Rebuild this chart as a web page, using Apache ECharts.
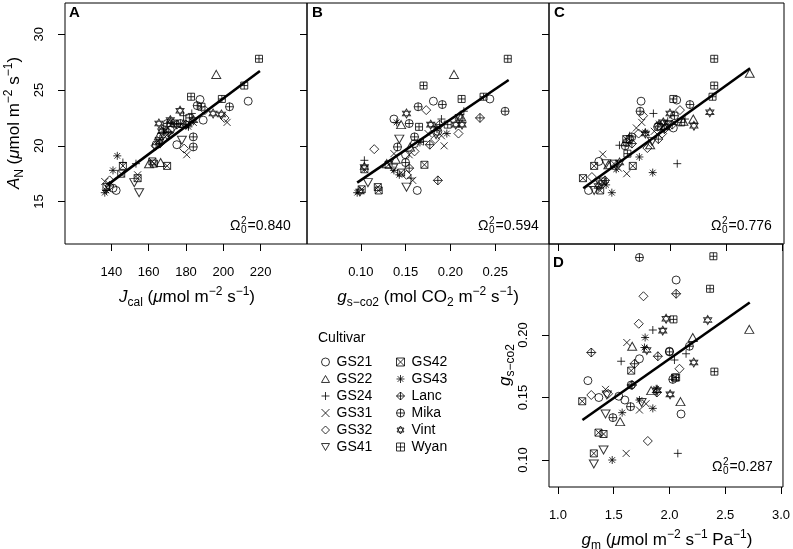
<!DOCTYPE html>
<html>
<head>
<meta charset="utf-8">
<title>AN, gs and gm by cultivar</title>
<script src="https://cdn.jsdelivr.net/npm/echarts@6/dist/echarts.min.js"></script>
<style>html,body{margin:0;background:#fff}#main{width:793px;height:549px}</style>
</head>
<body>
<div id="main"></div>
<script>
var cultivars = ['GS21','GS22','GS24','GS31','GS32','GS41','GS42','GS43','Lanc','Mika','Vint','Wyan'];

// panel A: Jcal vs AN, one list per cultivar (same order as cultivars)
var jcalAN = [
  [[213.3,24.0],[187.5,24.15],[189.2,22.3],[175.1,20.1],[142.6,16.0],[140.9,16.2],[171.6,21.4]],
  [[196.2,26.4],[171.6,22.1],[166.4,18.5],[165.5,20.9],[178.7,22.0],[160.2,18.4]],
  [[183.1,22.9],[178.7,22.7],[153.2,18.4],[146.2,18.5],[181.3,21.8],[168.0,21.2]],
  [[202.0,22.1],[180.4,19.2],[136.5,16.8],[154.1,17.4],[183.9,22.1],[170.0,21.0]],
  [[190.1,23.2],[200.6,22.5],[179.0,19.75],[139.1,16.9],[163.7,20.0],[172.5,21.6]],
  [[177.8,20.5],[152.3,16.7],[154.9,15.8],[169.9,20.9],[166.0,20.4]],
  [[146.2,18.2],[145.3,17.5],[154.1,17.1],[162.8,18.4],[169.9,18.2],[162.0,18.6],[137.4,16.3]],
  [[143.2,19.1],[140.9,17.8],[137.4,16.0],[136.5,15.8],[181.3,21.7],[168.0,21.5],[166.0,20.6]],
  [[180.0,21.9],[166.0,20.2],[170.5,21.2],[139.0,16.4],[175.0,21.9]],
  [[203.3,23.5],[183.9,20.8],[183.9,19.9],[177.0,22.0],[186.0,23.6],[164.0,20.1],[170.0,22.0]],
  [[194.5,22.9],[199.0,22.8],[176.8,23.15],[165.5,22.0],[171.6,22.3],[184.0,22.3],[167.0,21.3]],
  [[219.1,27.8],[211.2,25.4],[182.7,24.4],[199.2,24.2],[188.3,23.5],[181.8,22.5],[174.0,22.0]]
];

// panel B: gs-co2 vs AN
var gsAN = [
  [[0.181,24.0],[0.244,24.2],[0.137,22.4],[0.163,16.0],[0.150,19.2],[0.186,21.3],[0.160,20.2]],
  [[0.204,26.4],[0.145,21.9],[0.129,18.4],[0.139,18.8],[0.155,19.9],[0.212,22.6]],
  [[0.190,22.4],[0.215,23.1],[0.104,18.7],[0.156,17.1],[0.170,20.4],[0.183,21.7]],
  [[0.193,20.0],[0.154,19.2],[0.158,16.9],[0.190,20.9],[0.137,19.3],[0.175,21.1]],
  [[0.173,23.2],[0.209,21.1],[0.115,19.7],[0.151,17.4],[0.183,20.6],[0.160,19.5]],
  [[0.143,20.6],[0.108,16.7],[0.151,16.3],[0.136,18.0],[0.184,21.0]],
  [[0.171,18.3],[0.119,16.3],[0.120,16.0],[0.104,17.9],[0.145,17.6],[0.131,18.3],[0.101,16.1]],
  [[0.137,17.8],[0.143,17.4],[0.096,15.8],[0.196,21.1],[0.185,21.5],[0.166,20.3],[0.140,22.1]],
  [[0.233,22.5],[0.177,20.1],[0.186,16.9],[0.154,18.0],[0.188,21.9]],
  [[0.191,23.7],[0.164,23.5],[0.261,23.1],[0.154,22.0],[0.160,20.8],[0.141,19.9],[0.150,18.5]],
  [[0.151,22.9],[0.178,21.9],[0.206,21.9],[0.213,21.9],[0.104,18.1],[0.099,15.9],[0.210,22.6]],
  [[0.264,27.8],[0.170,25.4],[0.2125,24.2],[0.237,24.4],[0.165,21.7],[0.197,21.9]]
];

// panel C: gm vs AN
var gmAN = [
  [[1.742,24.0],[2.06,24.1],[1.273,16.0],[1.365,18.6],[1.90,21.8],[2.03,21.6],[1.64,20.6]],
  [[2.712,26.5],[2.208,22.4],[1.823,20.1],[1.45,18.3],[2.12,22.2],[1.96,21.8]],
  [[1.852,22.9],[2.134,22.4],[1.549,20.05],[2.065,18.4],[1.98,22.2],[1.64,20.9]],
  [[1.748,22.1],[1.40,19.25],[1.614,17.5],[1.54,18.0],[1.86,21.3],[1.70,21.6]],
  [[1.76,22.7],[2.089,23.2],[1.798,19.8],[1.72,21.1],[1.303,17.2],[1.93,21.1]],
  [[1.43,18.4],[1.323,16.0],[1.38,16.5],[1.98,21.9],[1.84,20.4]],
  [[1.323,18.2],[1.668,18.2],[1.223,17.1],[1.377,16.0],[1.50,18.4],[1.61,20.6],[1.40,16.8]],
  [[1.727,19.0],[1.846,17.6],[1.481,15.8],[1.52,17.9],[1.78,21.2],[1.90,22.0],[1.43,16.5]],
  [[1.896,20.6],[1.42,16.9],[1.95,21.5],[1.66,20.2],[2.02,21.9]],
  [[1.733,23.1],[2.178,23.7],[1.659,20.8],[1.614,20.3],[2.04,22.7],[1.89,21.7],[1.60,20.0]],
  [[2.356,23.0],[2.0,22.9],[2.214,21.8],[1.78,21.1],[1.94,22.1],[1.36,16.4],[1.55,18.5]],
  [[2.395,27.8],[2.395,25.4],[2.38,24.4],[2.03,24.2],[1.62,19.3],[2.10,22.1]]
];

// panel D: gm vs gs-co2
var gmGs = [
  [[2.06,0.244],[1.731,0.181],[1.269,0.1635],[1.367,0.150],[1.546,0.151],[2.104,0.1368],[2.0,0.187],[1.60,0.148]],
  [[2.716,0.2045],[2.209,0.198],[1.666,0.191],[1.836,0.1555],[2.099,0.1467],[1.558,0.1307]],
  [[1.851,0.204],[1.567,0.179],[2.149,0.185],[2.045,0.18],[2.075,0.1053]],
  [[1.618,0.194],[1.427,0.1565],[1.731,0.140],[1.612,0.1053],[1.79,0.145]],
  [[1.767,0.231],[1.725,0.209],[2.09,0.173],[1.299,0.152],[1.806,0.1152],[1.45,0.153]],
  [[1.439,0.152],[1.427,0.1368],[1.409,0.108],[1.322,0.0968],[1.75,0.146]],
  [[1.657,0.1715],[1.218,0.147],[1.364,0.1219],[1.409,0.1208],[1.322,0.1053],[2.05,0.166]],
  [[1.782,0.198],[1.776,0.190],[1.881,0.157],[1.731,0.148],[1.851,0.1413],[1.576,0.1379],[1.487,0.100]],
  [[2.06,0.233],[1.299,0.186],[1.896,0.183],[1.687,0.177],[1.887,0.154],[1.665,0.160]],
  [[1.731,0.262],[2.179,0.191],[1.657,0.160],[2.03,0.1645],[1.651,0.1427],[1.493,0.1339],[2.0,0.1865]],
  [[1.97,0.213],[2.343,0.212],[1.94,0.2035],[1.797,0.188],[2.218,0.178],[2.006,0.1525],[1.89,0.156]],
  [[2.394,0.263],[2.364,0.237],[2.036,0.2125],[2.403,0.1707],[2.06,0.166]]
];

// fitted lines (end points) and goodness of fit
var fitA = [[138.0,16.5],[219.6,26.7]];
var fitB = [[0.096,16.7],[0.265,25.9]];
var fitC = [[1.226,16.2],[2.715,26.95]];
var fitD = [[1.22,0.132],[2.72,0.226]];
var omega = ['0.840','0.594','0.776','0.287'];

var ticksJcal = [140,160,180,200,220];
var ticksGs = [0.10,0.15,0.20,0.25];
var ticksGm = [1.0,1.5,2.0,2.5,3.0];
var ticksAN = [15,20,25,30];
var ticksGsD = [0.10,0.15,0.20];

var FONT = '"Liberation Sans", Arial, Helvetica, sans-serif';

// R plotting characters 1..12
var pch = [
  'path://M0,5A5,5,0,1,1,10,5A5,5,0,1,1,0,5Z',
  'path://M5,0L10,8.66L0,8.66Z',
  'path://M5,0L5,10M0,5L10,5',
  'path://M0,0L10,10M10,0L0,10',
  'path://M5,0L10,5L5,10L0,5Z',
  'path://M0,0L10,0L5,8.66Z',
  'path://M0,0L10,0L10,10L0,10ZM0,0L10,10M10,0L0,10',
  'path://M5,0L5,10M0,5L10,5M1.46,1.46L8.54,8.54M8.54,1.46L1.46,8.54',
  'path://M5,0L10,5L5,10L0,5ZM5,0L5,10M0,5L10,5',
  'path://M0,5A5,5,0,1,1,10,5A5,5,0,1,1,0,5ZM5,0L5,10M0,5L10,5',
  'path://M5,0L9.33,7.5L0.67,7.5ZM5,10L0.67,2.5L9.33,2.5Z',
  'path://M0,0L10,0L10,10L0,10ZM5,0L5,10M0,5L10,5'
];
var pchSize = [8,[9,8],8,7,9,[9,8],7,8,9,8,[8,9],7];

var grids = [
  {left:65, top:3, width:242, height:241},
  {left:307, top:3, width:242, height:241},
  {left:549, top:3, width:235, height:241},
  {left:549, top:244, width:235, height:243}
];

function axis(gi, min, max, ticks, showLabels, fmt, rotate) {
  return {
    gridIndex: gi, type: 'value', min: min, max: max,
    axisLine: {show: false, onZero: false},
    splitLine: {show: false},
    axisTick: {show: true, length: 7, customValues: ticks, lineStyle: {color: '#000', width: 1}},
    axisLabel: {show: showLabels, customValues: ticks, margin: rotate ? 19 : 22, rotate: rotate || 0,
      fontSize: 13, color: '#000', fontFamily: FONT, formatter: fmt}
  };
}
var f0 = function (v) { return String(v); };
var f1 = function (v) { return v.toFixed(1); };
var f2 = function (v) { return v.toFixed(2); };

var xAxes = [
  axis(0, 115.2, 244.8, ticksJcal, true, f0),
  axis(1, 0.04, 0.31, ticksGs, true, f2),
  axis(2, 0.92, 3.018, ticksGm, false, f1),
  axis(3, 0.92, 3.018, ticksGm, true, f1)
];
var yAxes = [
  axis(0, 11.2, 32.8, ticksAN, true, f0, 90),
  axis(1, 11.2, 32.8, ticksAN, false, f0, 90),
  axis(2, 11.2, 32.8, ticksAN, false, f0, 90),
  axis(3, 0.0784, 0.2728, ticksGsD, true, f2, 90)
];

var panelData = [jcalAN, gsAN, gmAN, gmGs];
var fits = [fitA, fitB, fitC, fitD];
var series = [];
panelData.forEach(function (pts, gi) {
  cultivars.forEach(function (c, ci) {
    series.push({
      type: 'scatter', name: c, xAxisIndex: gi, yAxisIndex: gi, data: pts[ci],
      symbol: pch[ci], symbolSize: pchSize[ci], silent: true,
      itemStyle: {color: 'rgba(0,0,0,0)', borderColor: '#000', borderWidth: 1}
    });
  });
  series.push({
    type: 'line', xAxisIndex: gi, yAxisIndex: gi, data: fits[gi], symbol: 'none', silent: true,
    lineStyle: {color: '#000', width: 2.6}, z: 5
  });
});

// text helpers
var mctx = document.createElement('canvas').getContext('2d');
function tw(s, size) { mctx.font = size + 'px "Liberation Sans"'; return mctx.measureText(s).width; }

var RICH = {
  n: {fontSize: 17, fontFamily: FONT, lineHeight: 23, fill: '#000'},
  i: {fontSize: 17, fontFamily: FONT, fontStyle: 'italic', lineHeight: 23, fill: '#000'},
  sp: {fontSize: 12, fontFamily: FONT, lineHeight: 12, verticalAlign: 'top', fill: '#000'},
  sb: {fontSize: 12, fontFamily: FONT, lineHeight: 12, verticalAlign: 'bottom', fill: '#000'}
};
function title(txt, x, y, rot) {
  return {type: 'text', x: x, y: y, rotation: rot || 0, silent: true,
    style: {text: txt, rich: RICH, align: 'center', verticalAlign: 'middle'}};
}
function omegaText(x0, y, val) {
  var wO = tw('\u03A9', 14), w2 = tw('2', 10);
  var st = function (t, size) { return {text: t, fontSize: size, fontFamily: FONT, fill: '#000', align: 'left', verticalAlign: 'middle'}; };
  return [
    {type: 'text', x: x0, y: y, silent: true, style: st('\u03A9', 14)},
    {type: 'text', x: x0 + wO + 0.5, y: y - 5, silent: true, style: st('2', 10)},
    {type: 'text', x: x0 + wO + 0.5, y: y + 4, silent: true, style: st('0', 10)},
    {type: 'text', x: x0 + wO + w2 + 1.5, y: y, silent: true, style: st('=' + val, 14)}
  ];
}
function letter(t, x, y) {
  return {type: 'text', x: x, y: y, silent: true,
    style: {text: t, fontSize: 15, fontWeight: 'bold', fontFamily: FONT, fill: '#000', align: 'left', verticalAlign: 'middle'}};
}

var graphics = [
  title('{i|J}{sb|cal}{n| (}{i|\u03BC}{n|mol m}{sp|\u22122}{n| s}{sp|\u22121}{n|)}', 187, 297),
  title('{i|g}{sb|s\u2212co2}{n| (mol CO}{sb|2}{n| m}{sp|\u22122}{n| s}{sp|\u22121}{n|)}', 428, 297),
  title('{i|g}{sb|m}{n| (}{i|\u03BC}{n|mol m}{sp|\u22122}{n| s}{sp|\u22121}{n| Pa}{sp|\u22121}{n|)}', 667, 540),
  title('{i|A}{sb|N}{n| (}{i|\u03BC}{n|mol m}{sp|\u22122}{n| s}{sp|\u22121}{n|)}', 14, 123, Math.PI / 2),
  title('{i|g}{sb|s\u2212co2}', 505, 365, Math.PI / 2),
  letter('A', 69, 13), letter('B', 312, 13), letter('C', 554, 13), letter('D', 553, 263),
  {type: 'text', x: 318, y: 338, silent: true,
    style: {text: 'Cultivar', fontSize: 14, fontFamily: FONT, fill: '#000', align: 'left', verticalAlign: 'middle'}}
].concat(omegaText(230, 226, omega[0]), omegaText(478, 226, omega[1]),
         omegaText(711, 226, omega[2]), omegaText(712, 467, omega[3]));

function legendCol(names, left) {
  return {
    data: names, orient: 'vertical', left: left, top: 355, padding: 0, itemGap: 3,
    itemWidth: 8, itemHeight: 8, selectedMode: false,
    itemStyle: {color: 'rgba(0,0,0,0)', borderColor: '#000', borderWidth: 1},
    textStyle: {fontSize: 14, color: '#000', fontFamily: FONT, padding: [0, 0, 0, 2]}
  };
}

var myChart = echarts.init(document.getElementById('main'), null, {renderer: 'canvas'});
myChart.setOption({
  animation: false,
  backgroundColor: '#fff',
  grid: grids.map(function (g) {
    return {left: g.left, top: g.top, width: g.width, height: g.height, show: true,
      borderColor: '#000', borderWidth: 1, backgroundColor: 'transparent', containLabel: false};
  }),
  xAxis: xAxes,
  yAxis: yAxes,
  legend: [legendCol(cultivars.slice(0, 6), 321), legendCol(cultivars.slice(6), 396)],
  series: series,
  graphic: graphics
});
</script>
</body>
</html>
